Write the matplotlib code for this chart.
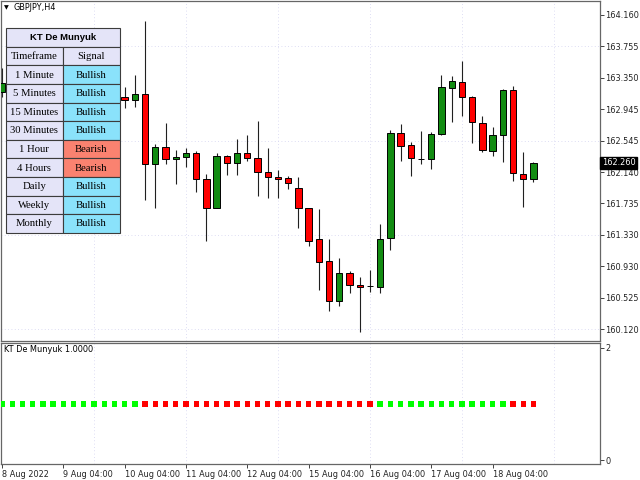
import matplotlib.pyplot as plt
import numpy as np
from matplotlib.patches import Rectangle
from matplotlib.transforms import blended_transform_factory

# H4 bars, numbered like MT4 does: 0 = first bar at the left edge.
# bars 1..11 sit behind the signal table, so they are left out
bar_idx = [0] + list(range(12, 53))
opens = [163.169, 163.105, 163.070, 163.147, 162.247, 162.466, 162.307, 162.337,
         162.388, 162.046, 161.681, 162.346, 162.252, 162.388, 162.316, 162.136,
         162.080, 162.059, 161.930, 161.673, 161.274, 160.995, 160.484, 160.844,
         160.686, 160.669, 160.664, 161.287, 162.638, 162.487, 162.311, 162.307,
         162.625, 163.225, 163.302, 163.109, 162.767, 162.414, 162.612, 163.195,
         162.118, 162.046]
highs = [163.478, 163.238, 163.388, 164.083, 162.496, 162.767, 162.423, 162.453,
         162.410, 162.110, 162.388, 162.359, 162.561, 162.616, 162.796, 162.453,
         162.166, 162.089, 162.072, 161.681, 161.660, 161.274, 161.030, 160.866,
         160.785, 160.879, 161.471, 162.680, 162.754, 162.522, 162.668, 162.659,
         163.388, 163.375, 163.572, 163.118, 162.861, 162.715, 163.208, 163.247,
         162.394, 162.273]
lows = [163.105, 162.967, 162.980, 161.780, 161.681, 162.239, 161.986, 162.208,
        161.879, 161.256, 161.673, 162.101, 162.101, 162.285, 161.831, 161.802,
        161.809, 161.918, 161.423, 161.192, 160.622, 160.356, 160.420, 160.587,
        160.085, 160.592, 160.579, 161.137, 162.285, 162.092, 162.243, 162.179,
        162.616, 162.780, 162.864, 162.517, 162.401, 162.350, 162.273, 162.024,
        161.694, 162.008]
closes = [163.285, 163.070, 163.147, 162.239, 162.466, 162.307, 162.337, 162.388,
          162.046, 161.681, 162.346, 162.252, 162.388, 162.316, 162.136, 162.076,
          162.054, 161.995, 161.673, 161.256, 160.986, 160.484, 160.844, 160.686,
          160.664, 160.669, 161.278, 162.638, 162.478, 162.324, 162.311, 162.629,
          163.230, 163.307, 163.109, 162.780, 162.423, 162.616, 163.195, 162.131,
          162.046, 162.260]
last_price = 162.260

price_ticks = [164.160, 163.755, 163.350, 162.945, 162.545, 162.140,
               161.735, 161.330, 160.930, 160.525, 160.120]
grid_prices = [163.755, 162.545, 161.330, 160.120]

date_idx = [0, 6, 12, 18, 24, 30, 36, 42, 48]
date_labels = ['8 Aug 2022', '9 Aug 04:00', '10 Aug 04:00', '11 Aug 04:00',
               '12 Aug 04:00', '15 Aug 04:00', '16 Aug 04:00', '17 Aug 04:00',
               '18 Aug 04:00']

# KT De Munyuk indicator: value 1 on every bar, colour = signal
n_bars = 53
munyuk_val = [1.0] * n_bars
munyuk_up = [True] * 14 + [False] * 23 + [True] * 13 + [False] * 3

timeframes = ['1 Minute', '5 Minutes', '15 Minutes', '30 Minutes', '1 Hour',
              '4 Hours', 'Daily', 'Weekly', 'Monthly']
signals = ['Bullish', 'Bullish', 'Bullish', 'Bullish', 'Bearish', 'Bearish',
           'Bullish', 'Bullish', 'Bullish']

W, H = 640, 480
fs = 5.9
fig = plt.figure(figsize=(6.4, 4.8), dpi=100)
ax = fig.add_axes([0.5 / W, 1 - 341 / H, 599 / W, 340 / H])
ax2 = fig.add_axes([0.5 / W, 1 - 464 / H, 599 / W, 121 / H])

xlim = (-0.147, 58.46)
grid_kw = dict(color='#d2d2f0', lw=0.6, ls=(0, (1, 3)), zorder=0)

# ---- price pane
x = np.array(bar_idx)
o = np.array(opens); c = np.array(closes)
up = c > o
body_col = np.where(up, '#128c12', '#ff0000')
ax.vlines(x, lows, highs, color='#202020', lw=0.8, zorder=2)
ax.bar(x, c - o, bottom=o, width=0.62, color=body_col, edgecolor='black',
       lw=0.7, zorder=3)
for p in grid_prices:
    ax.axhline(p, **grid_kw)
for b in range(9, 59, 9):
    ax.axvline(b, **grid_kw)
ax.set_xlim(*xlim)
ax.set_ylim(159.966, 164.340)
ax.set_xticks([])
ax.yaxis.tick_right()
ax.set_yticks(price_ticks)
ax.set_yticklabels(['%.3f' % p for p in price_ticks])
ax.tick_params(axis='y', length=3, width=0.6, pad=1, labelsize=fs, colors='#222222')

tr = blended_transform_factory(ax.transAxes, ax.transData)
ax.text(1.004, last_price, '%.3f' % last_price, transform=tr, color='white',
        fontsize=fs, va='center', ha='left',
        bbox=dict(boxstyle='square,pad=0.2', fc='black', ec='black'))

# ---- indicator pane
cols = ['#00ff00' if u else '#ff0000' for u in munyuk_up]
ax2.scatter(np.arange(n_bars), munyuk_val, marker='s', s=15, c=cols,
            linewidths=0, zorder=3)
for b in range(9, 59, 9):
    ax2.axvline(b, **grid_kw)
ax2.set_xlim(*xlim)
ax2.set_ylim(-0.071, 2.084)
ax2.yaxis.tick_right()
ax2.set_yticks([0, 2])
ax2.tick_params(axis='y', length=3, width=0.6, pad=1, labelsize=fs, colors='#222222')
ax2.set_xticks(date_idx)
ax2.set_xticklabels(date_labels)
for lbl in ax2.get_xticklabels():
    lbl.set_ha('left')
ax2.tick_params(axis='x', length=3, width=0.6, pad=1, labelsize=fs, colors='#222222')

for a in (ax, ax2):
    for s in a.spines.values():
        s.set_color('#666666')
        s.set_linewidth(0.9)

fig.text(4 / W, 1 - 7.5 / H, '\u25bc', fontsize=4.5, va='center')
fig.text(14 / W, 1 - 8 / H, 'GBPJPY,H4', fontsize=fs, va='center')
fig.text(4 / W, 1 - 349 / H, 'KT De Munyuk 1.0000', fontsize=fs, va='center')

# ---- signal table (drawn in pixel space on top of the chart)
tab = fig.add_axes([0, 0, 1, 1])
tab.set_xlim(0, W)
tab.set_ylim(H, 0)
tab.axis('off')
tab.patch.set_alpha(0)

x0, xm, x1 = 6, 62.7, 120
y0, rh = 28.3, 18.58
lav, bull, bear = '#e4e4f8', '#8ae2fb', '#fa8270'
edge = '#3c3c3c'
serif = dict(family='Liberation Serif', fontsize=7.7, ha='center', va='center')

tab.add_patch(Rectangle((x0, y0), x1 - x0, rh, fc=lav, ec=edge, lw=0.8))
tab.text((x0 + x1) / 2, y0 + rh / 2, 'KT De Munyuk', family='Liberation Sans',
         fontweight='bold', fontsize=6.8, ha='center', va='center')
rows = [('Timeframe', 'Signal')] + list(zip(timeframes, signals))
for k, (tf, sig) in enumerate(rows):
    yy = y0 + (k + 1) * rh
    if k == 0:
        right_col = lav
    else:
        right_col = bull if sig == 'Bullish' else bear
    tab.add_patch(Rectangle((x0, yy), xm - x0, rh, fc=lav, ec=edge, lw=0.8))
    tab.add_patch(Rectangle((xm, yy), x1 - xm, rh, fc=right_col, ec=edge, lw=0.8))
    tab.text((x0 + xm) / 2, yy + rh / 2 + 0.5, tf, **serif)
    tab.text((xm + x1) / 2, yy + rh / 2 + 0.5, sig, **serif)

plt.savefig('out.png', dpi=100)
